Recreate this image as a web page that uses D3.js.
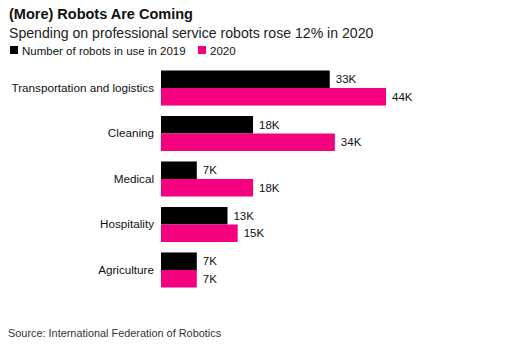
<!DOCTYPE html>
<html>
<head>
<meta charset="utf-8">
<script src="https://cdn.jsdelivr.net/npm/d3@7"></script>
<style>
  body { margin: 0; background: #fff; }
  text { font-family: "Liberation Sans", Arial, sans-serif; fill: #111; }
</style>
</head>
<body>
<svg id="chart" width="519" height="351"></svg>
<script>
// data
var categories = ['Transportation and logistics', 'Cleaning', 'Medical', 'Hospitality', 'Agriculture'];
var robots2019 = [33, 18, 7, 13, 7];
var robots2020 = [44, 34, 18, 15, 7];
var seriesNames = ['Number of robots in use in 2019', '2020'];
var colors = ['#000000', '#f5007f'];

var svg = d3.select('#chart');

// titles
svg.append('text').attr('x', 9).attr('y', 19)
    .style('font-size', '14.5px').style('font-weight', 'bold')
    .text('(More) Robots Are Coming');
svg.append('text').attr('x', 9).attr('y', 38)
    .style('font-size', '14.1px').style('fill', '#222')
    .text('Spending on professional service robots rose 12% in 2020');

// legend
var lx = [10, 198];
seriesNames.forEach(function (name, i) {
    svg.append('rect').attr('x', lx[i]).attr('y', 46).attr('width', 8).attr('height', 8)
        .attr('fill', colors[i]);
    svg.append('text').attr('x', lx[i] + 12).attr('y', 54.5)
        .style('font-size', '11.5px').text(name);
});

// scales
var x = d3.scaleLinear().domain([0, 44]).range([161, 386]);
var y = d3.scaleBand().domain(categories).range([70.5, 287.5]).paddingInner(0.23).paddingOuter(0);
var sub = d3.scaleBand().domain([0, 1]).range([0, y.bandwidth()]);

var groups = svg.selectAll('g.cat').data(categories).enter()
    .append('g').attr('class', 'cat')
    .attr('transform', function (d) { return 'translate(0,' + y(d) + ')'; });

groups.append('text')
    .attr('x', 154).attr('y', y.bandwidth() / 2 + 4)
    .attr('text-anchor', 'end')
    .style('font-size', '11.7px')
    .text(function (d) { return d; });

[robots2019, robots2020].forEach(function (vals, s) {
    groups.append('rect')
        .attr('x', x(0))
        .attr('y', sub(s))
        .attr('width', function (d, i) { return x(vals[i]) - x(0); })
        .attr('height', sub.bandwidth())
        .attr('fill', colors[s]);
    groups.append('text')
        .attr('x', function (d, i) { return x(vals[i]) + 6; })
        .attr('y', sub(s) + sub.bandwidth() / 2 + 4)
        .style('font-size', '11.5px')
        .text(function (d, i) { return vals[i] + 'K'; });
});

// source
svg.append('text').attr('x', 8).attr('y', 337)
    .style('font-size', '10.9px').style('fill', '#333')
    .text('Source: International Federation of Robotics');
</script>
</body>
</html>
